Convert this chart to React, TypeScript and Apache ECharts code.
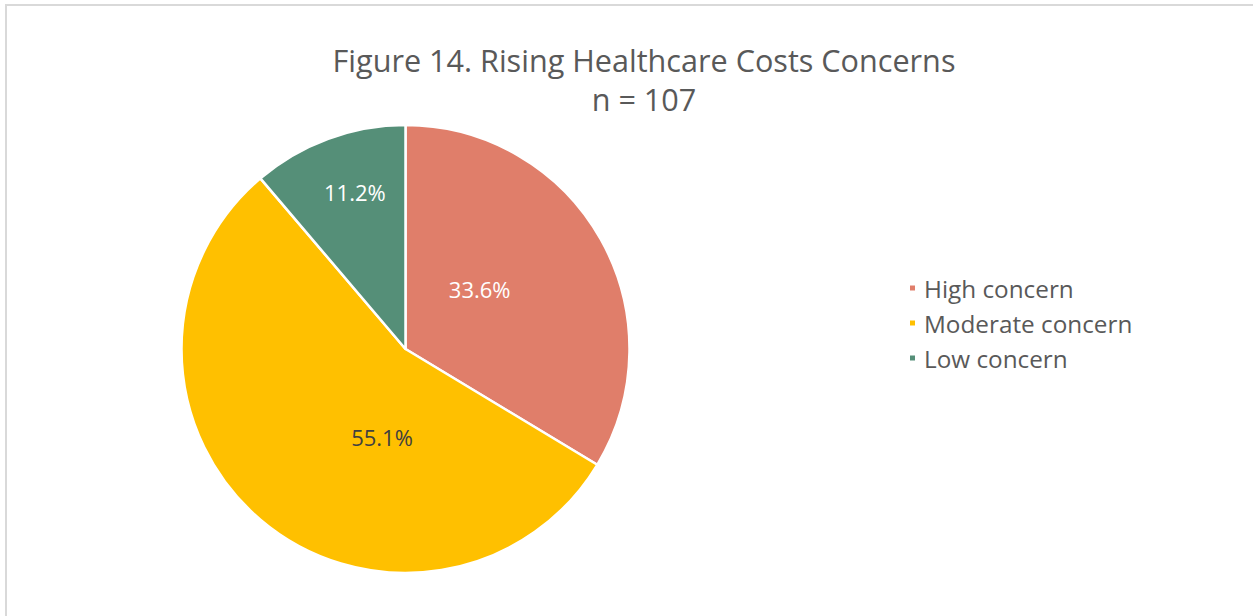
import React, { useEffect, useRef } from "react";
import * as echarts from "echarts";

const categories = ["High concern", "Moderate concern", "Low concern"];
const counts = [36, 59, 12];
const colors = ["#E07E6A", "#FFC000", "#558F78"];
const labelColors = ["#FFFFFF", "#404040", "#FFFFFF"];
const titleLines = ["Figure 14. Rising Healthcare Costs Concerns", "n = 107"];

const labelShift = [
  { dx: -26, dy: -3 },
  { dx: 51, dy: 0 },
  { dx: -11, dy: -49 },
];

const FONT = "Open Sans";

export default function App() {
  const ref = useRef<HTMLDivElement>(null);
  useEffect(() => {
    if (!ref.current) return;
    const chart = echarts.init(ref.current, null, { renderer: "svg" });
    const total = counts.reduce((a, b) => a + b, 0);
    chart.setOption({
      animation: false,
      backgroundColor: "#FFFFFF",
      textStyle: { fontFamily: FONT },
      title: {
        text: titleLines.join("\n"),
        left: 639,
        textAlign: "center",
        top: 35,
        textStyle: {
          fontFamily: FONT,
          fontSize: 30.6,
          fontWeight: "normal",
          color: "#595959",
          lineHeight: 39,
        },
      },
      graphic: [
        {
          type: "rect",
          shape: { x: 6, y: 5, width: 1400, height: 800 },
          style: { fill: "none", stroke: "#D9D9D9", lineWidth: 2 },
          silent: true,
        },
      ],
      legend: {
        orient: "vertical",
        left: 903,
        top: 271,
        itemWidth: 7,
        itemHeight: 7,
        itemGap: 11,
        icon: "rect",
        textStyle: { fontFamily: FONT, fontSize: 24.3, color: "#595959", padding: [0, 0, 0, 3] },
        data: categories,
      },
      series: [
        {
          type: "pie",
          center: [405.5, 349],
          radius: 224,
          startAngle: 90,
          clockwise: true,
          itemStyle: { borderColor: "#FFFFFF", borderWidth: 2.5 },
          label: {
            show: true,
            position: "inside",
            fontFamily: FONT,
            fontSize: 22,
            formatter: (p: any) => ((p.value / total) * 100).toFixed(1) + "%",
          },
          labelLayout: (p: any) => labelShift[p.dataIndex],
          emphasis: { disabled: true },
          data: categories.map((name, i) => ({
            name,
            value: counts[i],
            itemStyle: { color: colors[i] },
            label: { color: labelColors[i] },
          })),
        },
      ],
    });
    return () => chart.dispose();
  }, []);
  return (
    <div
      ref={ref}
      style={{ position: "fixed", left: 0, top: 0, width: 1253, height: 616 }}
    />
  );
}
